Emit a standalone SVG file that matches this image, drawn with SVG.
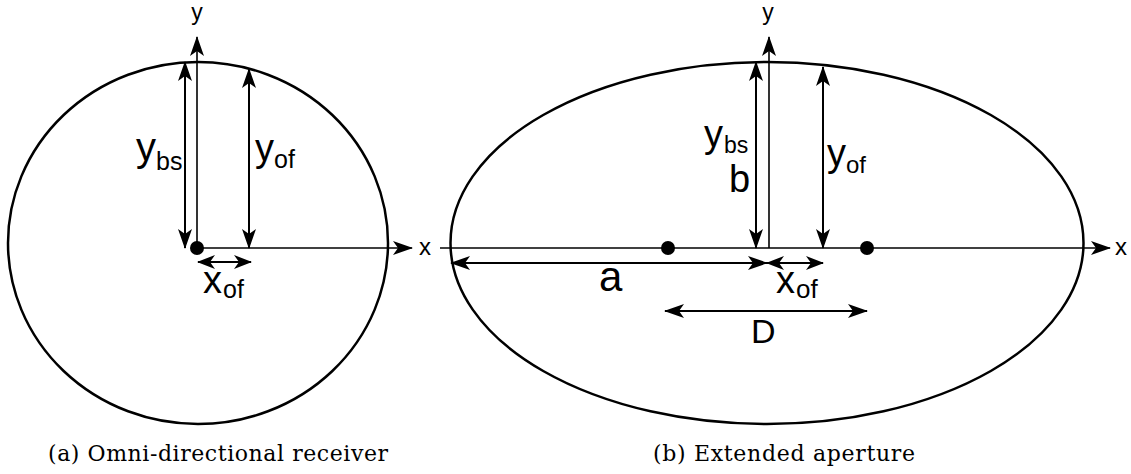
<svg xmlns="http://www.w3.org/2000/svg" width="1131" height="474" viewBox="0 0 1131 474">
<style>
.shape{fill:none;stroke:#000;stroke-width:2.5}
.axis{stroke:#000;stroke-width:1.6;fill:none}
.dim{stroke:#000;stroke-width:2;fill:none}
.lbl{font-family:"Liberation Sans",Arial,sans-serif;fill:#000}
.cap{font-family:"DejaVu Serif",serif;font-size:22px;fill:#000}
.dot{fill:#000}
</style>
<defs>
<marker id="ah" viewBox="0 0 20 14" refX="19" refY="7" markerWidth="20" markerHeight="14" markerUnits="userSpaceOnUse" orient="auto-start-reverse">
<path d="M0,0 L20,7 L0,14 L5,7 z" fill="#000"/>
</marker>
<marker id="ahs" viewBox="0 0 18 14" refX="17" refY="7" markerWidth="18" markerHeight="14" markerUnits="userSpaceOnUse" orient="auto-start-reverse">
<path d="M0,0 L18,7 L0,14 L5,7 z" fill="#000"/>
</marker>
</defs>
<rect width="1131" height="474" fill="#fff"/>

<g id="panel-a">
<ellipse id="circle-a" class="shape" cx="198" cy="243" rx="190" ry="181"/>
<circle id="dot-a" class="dot" cx="197" cy="248" r="7"/>
<text class="lbl" x="197" y="20" font-size="23" text-anchor="middle">y</text>
<text class="lbl" x="419" y="255" font-size="24">x</text>
<g id="label-ybs-a"><text class="lbl" x="136" y="161" font-size="40">y</text><text class="lbl" x="156" y="170" font-size="25">bs</text></g>
<g id="label-yof-a"><text class="lbl" x="255" y="161" font-size="38">y</text><text class="lbl" x="274" y="168" font-size="25">of</text></g>
<g id="label-xof-a"><text class="lbl" x="203" y="293" font-size="38">x</text><text class="lbl" x="223" y="298" font-size="25">of</text></g>
<text class="cap" x="48" y="461" textLength="340" lengthAdjust="spacing">(a) Omni-directional receiver</text>
</g>

<g id="panel-b">
<ellipse id="ellipse-b" class="shape" cx="767" cy="243" rx="316.5" ry="181"/>
<circle id="focus-1" class="dot" cx="668" cy="248" r="7"/>
<circle id="focus-2" class="dot" cx="867" cy="248" r="7"/>
<text class="lbl" x="768" y="20" font-size="23" text-anchor="middle">y</text>
<text class="lbl" x="1115" y="255" font-size="24">x</text>
<g id="label-ybs-b"><text class="lbl" x="704" y="147" font-size="38">y</text><text class="lbl" x="724" y="153" font-size="23">bs</text></g>
<text id="label-b" class="lbl" x="729" y="192" font-size="38">b</text>
<g id="label-yof-b"><text class="lbl" x="827" y="166" font-size="38">y</text><text class="lbl" x="846" y="173" font-size="24">of</text></g>
<text id="label-a" class="lbl" x="599" y="291" font-size="42">a</text>
<g id="label-xof-b"><text class="lbl" x="776" y="293" font-size="38">x</text><text class="lbl" x="796" y="298" font-size="26">of</text></g>
<text id="label-D" class="lbl" x="751" y="343" font-size="34">D</text>
<text class="cap" x="653" y="461" textLength="262" lengthAdjust="spacing">(b) Extended aperture</text>
</g>

<g id="connectors">
<line class="axis" x1="197" y1="248" x2="197" y2="37" marker-end="url(#ah)"/>
<line class="axis" x1="197" y1="248" x2="412" y2="248" marker-end="url(#ah)"/>
<line class="dim" x1="185" y1="62" x2="185" y2="248" marker-start="url(#ah)" marker-end="url(#ah)"/>
<line class="dim" x1="249" y1="69" x2="249" y2="248" marker-start="url(#ah)" marker-end="url(#ah)"/>
<line class="dim" x1="198" y1="262" x2="251" y2="262" marker-start="url(#ahs)" marker-end="url(#ahs)"/>

<line class="axis" x1="769" y1="248" x2="769" y2="37" marker-end="url(#ah)"/>
<line class="axis" x1="440" y1="248" x2="1110" y2="248" marker-end="url(#ah)"/>
<line class="dim" x1="756" y1="62" x2="756" y2="248" marker-start="url(#ah)" marker-end="url(#ah)"/>
<line class="dim" x1="823" y1="67" x2="823" y2="248" marker-start="url(#ah)" marker-end="url(#ah)"/>
<line class="dim" x1="451" y1="263" x2="767" y2="263" marker-start="url(#ah)" marker-end="url(#ah)"/>
<line class="dim" x1="767" y1="263" x2="823" y2="263" marker-start="url(#ahs)" marker-end="url(#ahs)"/>
<line class="dim" x1="665" y1="311" x2="867" y2="311" marker-start="url(#ah)" marker-end="url(#ah)"/>
</g>
</svg>
